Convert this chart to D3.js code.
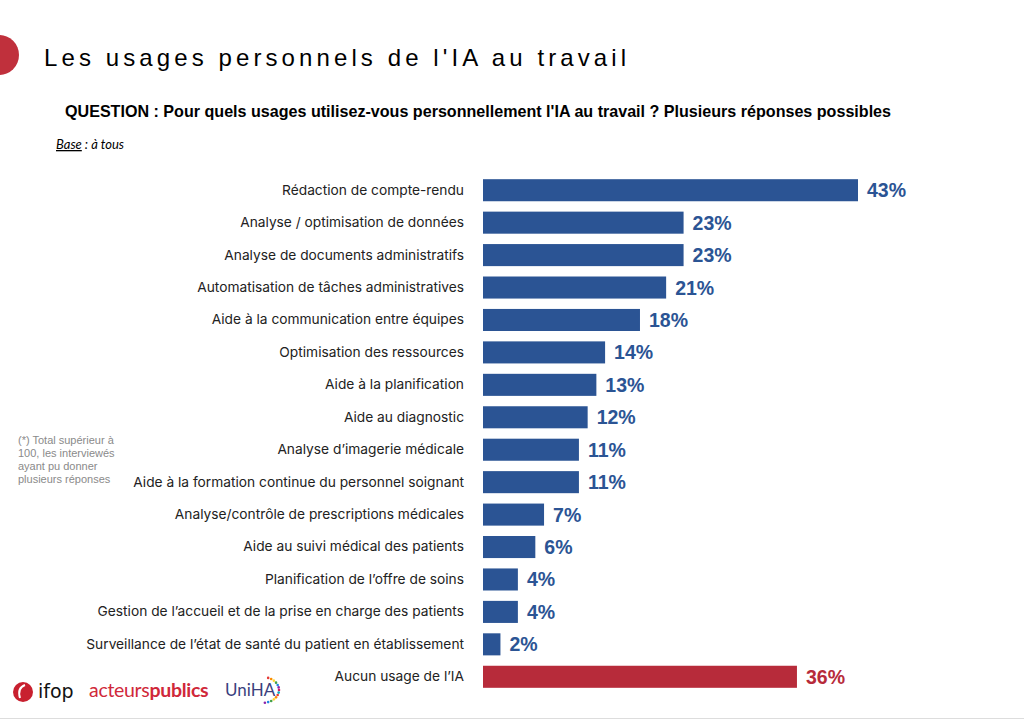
<!DOCTYPE html>
<html>
<head>
<meta charset="utf-8">
<script src="https://cdn.jsdelivr.net/npm/d3@7"></script>
<style>
  body { margin: 0; background: #fff; }
  svg { display: block; }
</style>
</head>
<body>
<div id="chart"></div>
<script>
var categories = [
  "Rédaction de compte-rendu",
  "Analyse / optimisation de données",
  "Analyse de documents administratifs",
  "Automatisation de tâches administratives",
  "Aide à la communication entre équipes",
  "Optimisation des ressources",
  "Aide à la planification",
  "Aide au diagnostic",
  "Analyse d’imagerie médicale",
  "Aide à la formation continue du personnel soignant",
  "Analyse/contrôle de prescriptions médicales",
  "Aide au suivi médical des patients",
  "Planification de l’offre de soins",
  "Gestion de l’accueil et de la prise en charge des patients",
  "Surveillance de l’état de santé du patient en établissement",
  "Aucun usage de l’IA"
];
var values = [43, 23, 23, 21, 18, 14, 13, 12, 11, 11, 7, 6, 4, 4, 2, 36];
var highlight = ["Aucun usage de l’IA"];
var footnote = ["(*) Total supérieur à", "100, les interviewés", "ayant pu donner", "plusieurs réponses"];
var dotColors = ["#e53935", "#fb8c00", "#fdd835", "#43a047", "#1e88e5", "#8e24aa", "#d81b60", "#00acc1"];

var width = 1024, height = 720;
var blue = "#2b5494", red = "#b72b3a";

var svg = d3.select("#chart").append("svg")
    .attr("width", width)
    .attr("height", height);

// header
svg.append("circle").attr("cx", -1).attr("cy", 55).attr("r", 20).attr("fill", "#c0303c");
svg.append("text")
    .attr("x", 44).attr("y", 66)
    .style("font-family", "Liberation Sans, Arial, sans-serif")
    .style("font-size", "24px")
    .style("letter-spacing", "4.1px")
    .attr("fill", "#000")
    .text("Les usages personnels de l'IA au travail");
svg.append("text")
    .attr("x", 65).attr("y", 117)
    .style("font-family", "Liberation Sans, Arial, sans-serif")
    .style("font-size", "16.1px")
    .style("font-weight", "bold")
    .attr("fill", "#000")
    .text("QUESTION : Pour quels usages utilisez-vous personnellement l'IA au travail ? Plusieurs réponses possibles");
var base = svg.append("text")
    .attr("x", 56).attr("y", 149)
    .style("font-family", "Lato, sans-serif")
    .style("font-size", "13px")
    .style("font-style", "italic")
    .attr("fill", "#000");
base.append("tspan").style("text-decoration", "underline").text("Base");
base.append("tspan").text(" : à tous");

// footnote
svg.append("g").selectAll("text")
    .data(footnote)
  .enter().append("text")
    .attr("x", 18)
    .attr("y", function(d, i) { return 444 + i * 13; })
    .style("font-family", "Liberation Sans, Arial, sans-serif")
    .style("font-size", "11px")
    .attr("fill", "#8a8a8a")
    .text(function(d) { return d; });

// chart
var x = d3.scaleLinear().domain([0, 43]).range([483, 858]);
var y = d3.scaleBand().domain(categories).range([174, 693]).paddingInner(0.32).paddingOuter(0.16);

var g = svg.append("g");
g.selectAll("rect")
    .data(values)
  .enter().append("rect")
    .attr("x", x(0))
    .attr("y", function(d, i) { return y(categories[i]); })
    .attr("width", function(d) { return x(d) - x(0); })
    .attr("height", y.bandwidth())
    .attr("fill", function(d, i) { return highlight.indexOf(categories[i]) >= 0 ? red : blue; });

g.selectAll("text.val")
    .data(values)
  .enter().append("text")
    .attr("class", "val")
    .attr("x", function(d) { return x(d) + 9; })
    .attr("y", function(d, i) { return y(categories[i]) + y.bandwidth() / 2; })
    .attr("dy", "0.36em")
    .style("font-family", "Liberation Sans, Arial, sans-serif")
    .style("font-size", "19.5px")
    .style("font-weight", "bold")
    .attr("fill", function(d, i) { return highlight.indexOf(categories[i]) >= 0 ? red : blue; })
    .text(function(d) { return d + "%"; });

var yAxis = d3.axisLeft(y).tickSize(0).tickPadding(0);
var ax = svg.append("g")
    .attr("transform", "translate(464,0)")
    .call(yAxis);
ax.select(".domain").remove();
ax.selectAll("text")
    .style("font-family", "Inter, sans-serif")
    .style("font-size", "13.75px")
    .attr("fill", "#222");

// logos
var logos = svg.append("g");
logos.append("circle").attr("cx", 23).attr("cy", 692).attr("r", 10).attr("fill", "#c8202f");
logos.append("path").attr("d", "M20,698 Q17,688 25,685")
    .attr("fill", "none").attr("stroke", "#fff").attr("stroke-width", 2);
logos.append("text").attr("x", 38).attr("y", 698)
    .style("font-family", "DejaVu Sans, sans-serif").style("font-size", "19px")
    .attr("fill", "#111").text("ifop");
var ap = logos.append("text").attr("x", 89).attr("y", 697)
    .style("font-family", "Lato, sans-serif").style("font-size", "19.5px")
    .style("letter-spacing", "-0.3px")
    .attr("fill", "#d0283a");
ap.append("tspan").text("acteurs");
ap.append("tspan").style("font-weight", "bold").text("publics");
logos.append("text").attr("x", 225).attr("y", 696)
    .style("font-family", "Lato, sans-serif").style("font-size", "17px")
    .attr("fill", "#3b3f7e").text("UniHA");
var arc = d3.range(14);
logos.append("g").selectAll("circle")
    .data(arc)
  .enter().append("circle")
    .attr("cx", function(d) { var a = -1.2 + d * 0.2; return 262 + 17 * Math.cos(a); })
    .attr("cy", function(d) { var a = -1.2 + d * 0.2; return 690 + 13 * Math.sin(a); })
    .attr("r", 1.3)
    .attr("fill", function(d) { return dotColors[d % dotColors.length]; });

svg.append("line").attr("x1", 0).attr("x2", width).attr("y1", 718.5).attr("y2", 718.5)
    .attr("stroke", "#ddd").attr("stroke-width", 1);
</script>
</body>
</html>
